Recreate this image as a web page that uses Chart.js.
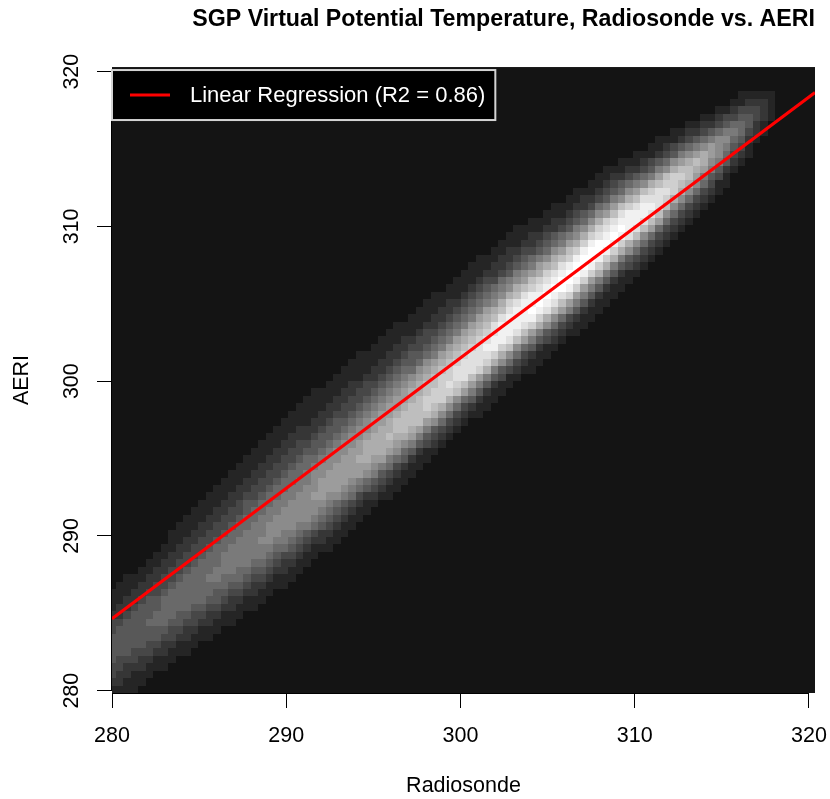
<!DOCTYPE html>
<html>
<head>
<meta charset="utf-8">
<script src="https://cdn.jsdelivr.net/npm/chart.js@4.4.1/dist/chart.umd.min.js"></script>
<style>
  html, body { margin: 0; padding: 0; background: #fff; }
  #wrap { width: 830px; height: 799px; }
</style>
</head>
<body>
<div id="wrap"><canvas id="thetaChart" width="830" height="799"></canvas></div>
<script>
// tick labels on both axes (K)
const xTicks = [280, 290, 300, 310, 320];
const yTicks = [280, 290, 300, 310, 320];

// smoothed point density, sampled along the radiosonde axis:
// ridge position, grey level at the ridge, spread above / below the ridge
const ridgeX     = [279, 282, 285, 288, 291, 294, 297, 300, 303, 306, 309, 311, 313, 315, 316.4, 317.3, 318.2];
const ridgeY     = [281.8, 284.2, 286.7, 289.2, 291.8, 294.6, 297.4, 300.4, 303.6, 306.4, 309.6, 311.4, 313.5, 315.3, 316.7, 317.5, 318.1];
const ridgePeak  = [80, 98, 110, 128, 145, 165, 192, 222, 248, 255, 255, 238, 200, 140, 92, 56, 30];
const spreadUp   = [1.9, 2.0, 2.5, 2.9, 3.0, 2.9, 2.8, 2.6, 2.4, 2.1, 1.8, 1.55, 1.3, 1.1, 0.95, 0.85, 0.7];
const spreadDown = [1.8, 1.7, 1.75, 1.8, 1.75, 1.65, 1.55, 1.45, 1.5, 1.55, 1.55, 1.5, 1.5, 1.35, 1.15, 0.95, 0.7];

// least squares fit, drawn edge to edge
const fitX = [280, 320.35];
const fitY = [284.65, 318.65];
const fitLabel = 'Linear Regression (R2 = 0.86)';

const FONT = "'Liberation Sans', Arial, sans-serif";

function ridgeAt(v) {
  if (v < ridgeX[0] || v > ridgeX[ridgeX.length - 1]) return null;
  let k = 0;
  while (k < ridgeX.length - 2 && v > ridgeX[k + 1]) k++;
  const t = (v - ridgeX[k]) / (ridgeX[k + 1] - ridgeX[k]);
  const mix = a => a[k] + (a[k + 1] - a[k]) * t;
  return { c: mix(ridgeY), peak: mix(ridgePeak), up: mix(spreadUp), down: mix(spreadDown) };
}

// grey density image under the regression line
const densityImage = {
  id: 'densityImage',
  beforeDatasetsDraw(chart) {
    const { ctx, chartArea: area, scales: { x, y } } = chart;
    const bg = 20, step = 17;
    const cellW = 0.43, cellH = 0.48;
    const x0 = 279.8, y0 = 279.85;
    ctx.save();
    ctx.beginPath();
    ctx.rect(area.left, area.top, area.width, area.height);
    ctx.clip();
    ctx.fillStyle = `rgb(${bg},${bg},${bg})`;
    ctx.fillRect(area.left, area.top, area.width, area.height);
    for (let i = 0; i < 96; i++) {
      const xa = x0 + i * cellW;
      const p = ridgeAt(xa + cellW / 2);
      if (!p) continue;
      const px0 = Math.round(x.getPixelForValue(xa));
      const px1 = Math.round(x.getPixelForValue(xa + cellW));
      for (let j = 0; j < 86; j++) {
        const ya = y0 + j * cellH;
        const d = ya + cellH / 2 - p.c;
        const s = d > 0 ? p.up : p.down;
        const g = bg + (p.peak - bg) * Math.exp(-0.5 * (d / s) * (d / s));
        const lvl = Math.min(255, bg + Math.round((g - bg) / step) * step);
        if (lvl <= bg) continue;
        const py0 = Math.round(y.getPixelForValue(ya));
        const py1 = Math.round(y.getPixelForValue(ya + cellH));
        ctx.fillStyle = `rgb(${lvl},${lvl},${lvl})`;
        ctx.fillRect(px0, py1, px1 - px0, py0 - py1);
      }
    }
    ctx.restore();
  }
};

// axis lines between the outer ticks, and the boxed legend in the top-left corner
const frame = {
  id: 'frame',
  afterDraw(chart) {
    const { ctx, chartArea: area, scales: { x, y } } = chart;
    ctx.save();
    ctx.strokeStyle = '#000';
    ctx.lineWidth = 1;
    ctx.beginPath();
    ctx.moveTo(x.getPixelForValue(xTicks[0]), area.bottom + 0.5);
    ctx.lineTo(x.getPixelForValue(xTicks[xTicks.length - 1]), area.bottom + 0.5);
    ctx.moveTo(area.left - 0.5, y.getPixelForValue(yTicks[0]));
    ctx.lineTo(area.left - 0.5, y.getPixelForValue(yTicks[yTicks.length - 1]));
    ctx.stroke();

    const ds = chart.data.datasets[0];
    ctx.font = `22px ${FONT}`;
    const left = area.left, top = area.top + 3;
    const w = 78 + ctx.measureText(ds.label).width + 10, h = 50;
    ctx.fillStyle = '#000';
    ctx.fillRect(left, top, w, h);
    ctx.strokeStyle = '#d4d4d4';
    ctx.lineWidth = 2;
    ctx.strokeRect(left, top, w, h);
    ctx.strokeStyle = ds.borderColor;
    ctx.lineWidth = 3;
    ctx.beginPath();
    ctx.moveTo(left + 18, top + 25);
    ctx.lineTo(left + 58, top + 25);
    ctx.stroke();
    ctx.fillStyle = '#fff';
    ctx.textBaseline = 'middle';
    ctx.fillText(ds.label, left + 78, top + 26);
    ctx.restore();
  }
};

new Chart(document.getElementById('thetaChart'), {
  type: 'line',
  data: {
    datasets: [{
      label: fitLabel,
      data: fitX.map((v, i) => ({ x: v, y: fitY[i] })),
      borderColor: '#ff0000',
      borderWidth: 3,
      pointRadius: 0,
      tension: 0
    }]
  },
  options: {
    responsive: false,
    animation: false,
    layout: { padding: { left: 0, right: 15, top: 0, bottom: 0 } },
    plugins: {
      legend: { display: false },
      tooltip: { enabled: false },
      title: {
        display: true,
        fullSize: false,
        align: 'end',
        text: 'SGP Virtual Potential Temperature, Radiosonde vs. AERI',
        color: '#000',
        font: { family: FONT, size: 23.2, weight: 'bold' },
        padding: { top: 6, bottom: 33.2 }
      }
    },
    scales: {
      x: {
        type: 'linear',
        min: 280,
        max: 320.35,
        afterBuildTicks: s => { s.ticks = xTicks.map(v => ({ value: v })); },
        afterFit: s => { s.height = 106; s.paddingLeft = 0; s.paddingRight = 0; },
        border: { display: false },
        grid: { drawOnChartArea: false, drawTicks: true, tickLength: 15, color: '#000', lineWidth: 1 },
        ticks: { color: '#000', padding: 15, maxRotation: 0, font: { family: FONT, size: 21.5 } },
        title: { display: true, text: 'Radiosonde', color: '#000', padding: { top: 0, bottom: 0 }, font: { family: FONT, size: 21.5 } }
      },
      y: {
        type: 'linear',
        min: 279.85,
        max: 320.3,
        afterBuildTicks: s => { s.ticks = yTicks.map(v => ({ value: v })); },
        afterFit: s => { s.width = 112; s.paddingTop = 0; s.paddingBottom = 0; },
        border: { display: false },
        grid: { drawOnChartArea: false, drawTicks: true, tickLength: 15, color: '#000', lineWidth: 1 },
        ticks: { color: '#000', padding: 7, minRotation: 90, maxRotation: 90, crossAlign: 'center', font: { family: FONT, size: 21.5 } },
        title: { display: true, text: 'AERI', color: '#000', padding: { top: 9, bottom: 0 }, font: { family: FONT, size: 21.5 } }
      }
    }
  },
  plugins: [densityImage, frame]
});
</script>
</body>
</html>
